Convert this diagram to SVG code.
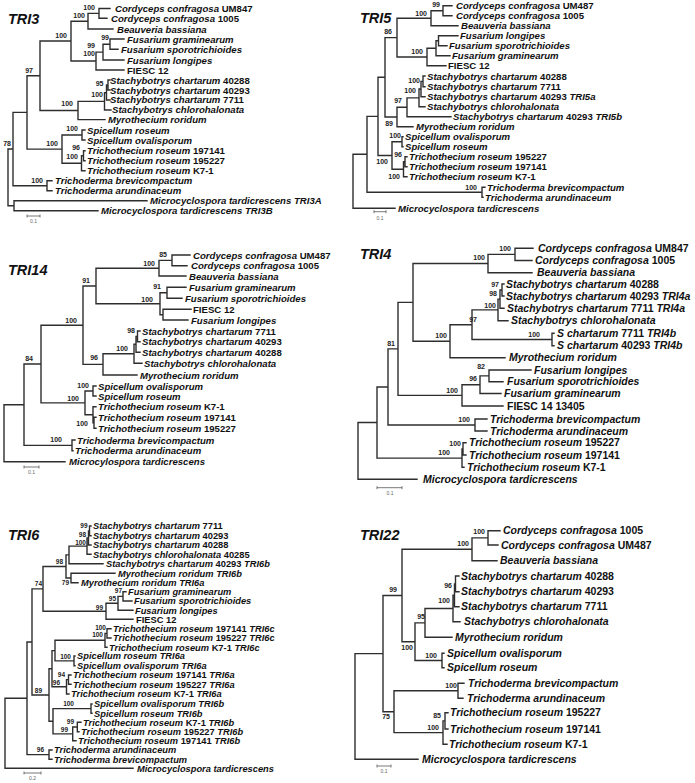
<svg xmlns="http://www.w3.org/2000/svg" width="695" height="783" viewBox="0 0 695 783">
<style>
.b{fill:none;stroke:#2e2e2e;stroke-width:1.4;stroke-linecap:square}
.l{font-family:"Liberation Sans",Arial,sans-serif;font-weight:bold;font-style:italic;font-size:9.6px;fill:#111}
.l2{font-size:10.5px}
.l3{font-size:9.3px}
.n{font-style:normal}
.s{font-family:"Liberation Sans",Arial,sans-serif;font-weight:bold;font-size:7px;fill:#222;text-anchor:end}
.t{font-family:"Liberation Sans",Arial,sans-serif;font-weight:bold;font-style:italic;font-size:14.5px;fill:#111}
.sb{fill:none;stroke:#555;stroke-width:0.8}
.sl{font-family:"Liberation Sans",Arial,sans-serif;font-size:5px;fill:#666;text-anchor:middle}
</style>
<rect width="695" height="783" fill="#fff"/>

<!-- TRI3 -->
<g id="tri3">
<text class="t" x="8" y="24">TRI3</text>
<g id="tri3-edges" class="b"><path d="M99 8.5V18.3M88 13.4V29M110 39V49.3M103 44.2V60M96 52.1V70M71 21.2V61M108 80V90M106.5 85V100M104.5 92.75V110M78 101.4V119.6M40 41V110.5M82 130V140M83.5 150.7V160.7M81.5 155.7V170.7M62 135V163.2M27 75.7V149.1M47 180.7V190.7M13 112.4V185.7M14 200.7V210.7M8 149V205.7M99 8.5H110M99 18.3H107M88 13.4H99M88 29H113M110 39H124M110 49.3H118M103 44.2H110M103 60H124M96 52.1H103M96 70H124M71 61H96M71 21.2H88M40 41H71M78 119.6H105M40 110.5H78M27 75.7H40M108 80H110M108 90H110M106.5 85H108M106.5 100H110M104.5 92.75H106.5M104.5 110H111M78 101.4H104.5M82 130H85M82 140H85M62 135H82M83.5 150.7H85M83.5 160.7H85M81.5 155.7H83.5M81.5 170.7H85M62 163.2H81.5M27 149.1H62M13 112.4H27M47 180.7H52M47 190.7H52M13 185.7H47M8 149H13M14 200.7H147M14 210.7H98M8 205.7H14"/></g>
<g id="tri3-leaves" class="l">
<text x="115" y="12">Cordyceps confragosa<tspan class="n"> UM847</tspan></text>
<text x="111" y="21.8">Cordyceps confragosa<tspan class="n"> 1005</tspan></text>
<text x="117" y="32.5">Beauveria bassiana</text>
<text x="127" y="42.5">Fusarium graminearum</text>
<text x="121" y="52.8">Fusarium sporotrichioides</text>
<text x="127" y="63.5">Fusarium longipes</text>
<text x="127" y="73.5" class="n">FIESC 12</text>
<text x="110" y="83.5">Stachybotrys chartarum<tspan class="n"> 40288</tspan></text>
<text x="110" y="93.5">Stachybotrys chartarum<tspan class="n"> 40293</tspan></text>
<text x="110" y="103.4">Stachybotrys chartarum<tspan class="n"> 7711</tspan></text>
<text x="112" y="113.2">Stachybotrys chlorohalonata</text>
<text x="108" y="123.3">Myrothecium roridum</text>
<text x="87" y="133.5">Spicellum roseum</text>
<text x="87" y="143.5">Spicellum ovalisporum</text>
<text x="87" y="154.2">Trichothecium roseum<tspan class="n"> 197141</tspan></text>
<text x="87" y="164.2">Trichothecium roseum<tspan class="n"> 195227</tspan></text>
<text x="87" y="174.2">Trichothecium roseum<tspan class="n"> K7-1</tspan></text>
<text x="55" y="184.2">Trichoderma brevicompactum</text>
<text x="55" y="194.2">Trichoderma arundinaceum</text>
<text x="150" y="204.2">Microcyclospora tardicrescens TRI3A</text>
<text x="101" y="214.2">Microcyclospora tardicrescens TRI3B</text>
</g>
<g id="tri3-support" class="s">
<text x="95" y="9.5">100</text><text x="85" y="17.5">100</text><text x="109" y="40">99</text><text x="95" y="47.5">99</text><text x="95" y="55.5">100</text><text x="67" y="37.5">100</text><text x="33" y="72.5">97</text><text x="103.5" y="85.5">95</text><text x="103" y="97">100</text><text x="73" y="106">100</text><text x="78" y="131">100</text><text x="80" y="149.5">96</text><text x="78" y="159">100</text><text x="58" y="145.5">100</text><text x="11" y="145.5">78</text><text x="43" y="182.5">100</text>
</g>
<g id="tri3-scale"><path class="sb" d="M27 216H40M27 214.5V217.5M40 214.5V217.5"/><text class="sl" x="33.5" y="223">0.1</text></g>
</g>

<!-- TRI5 -->
<g id="tri5">
<text class="t" x="360" y="23">TRI5</text>
<g id="tri5-edges" class="b"><path d="M443 5.7V15.7M431 10.7V25.7M438.5 35.7V45.7M436 40.7V55.7M427 48.2V65.7M397 18.2V57M423 76V86.7M421 81.35V96.7M419 89V106.7M407 97.9V116.7M397 107.3V126.7M385 37.6V117M402 136.7V146.7M405 156.7V166.7M403.5 161.7V176.7M392 141.7V169.2M378 77.3V155.5M482 187.3V197.3M367 116.4V192.3M353 154.3V208.3M443 5.7H452M443 15.7H452M431 10.7H443M431 25.7H458M397 18.2H431M438.5 35.7H458M438.5 45.7H447M436 40.7H438.5M436 55.7H450M427 48.2H436M427 65.7H446M397 57H427M385 37.6H397M423 76H425M423 86.7H425M421 81.35H423M421 96.7H425M419 89H421M419 106.7H425M407 97.9H419M407 116.7H451M397 107.3H407M397 126.7H413M385 117H397M378 77.3H385M402 136.7H403M402 146.7H403M392 141.7H402M405 156.7H407M405 166.7H407M403.5 161.7H405M403.5 176.7H407M392 169.2H403.5M378 155.5H392M367 116.4H378M482 187.3H485M482 197.3H483M367 192.3H482M353 154.3H367M353 208.3H395"/></g>
<g id="tri5-leaves" class="l">
<text x="456" y="9.2">Cordyceps confragosa<tspan class="n"> UM487</tspan></text>
<text x="456" y="19.2">Cordyceps confragosa<tspan class="n"> 1005</tspan></text>
<text x="461" y="29.2">Beauveria bassiana</text>
<text x="460" y="39.2">Fusarium longipes</text>
<text x="449" y="49.2">Fusarium sporotrichioides</text>
<text x="452" y="59.2">Fusarium graminearum</text>
<text x="448" y="69.2" class="n">FIESC 12</text>
<text x="427" y="79.5">Stachybotrys chartarum<tspan class="n"> 40288</tspan></text>
<text x="427" y="90.2">Stachybotrys chartarum<tspan class="n"> 7711</tspan></text>
<text x="427" y="100.2">Stachybotrys chartarum<tspan class="n"> 40293 </tspan>TRI5a</text>
<text x="427" y="110.2">Stachybotrys chlorohalonata</text>
<text x="453" y="120.2">Stachybotrys chartarum<tspan class="n"> 40293 </tspan>TRI5b</text>
<text x="416" y="130.2">Myrothecium roridum</text>
<text x="405" y="140.2">Spicellum ovalisporum</text>
<text x="405" y="150.2">Spicellum roseum</text>
<text x="409" y="160.2">Trichothecium roseum<tspan class="n"> 195227</tspan></text>
<text x="409" y="170.2">Trichothecium roseum<tspan class="n"> 197141</tspan></text>
<text x="409" y="180.2">Trichothecium roseum<tspan class="n"> K7-1</tspan></text>
<text x="487" y="190.8">Trichoderma brevicompactum</text>
<text x="485" y="200.8">Trichoderma arundinaceum</text>
<text x="398" y="211.8">Microcyclospora tardicrescens</text>
</g>
<g id="tri5-support" class="s">
<text x="440" y="7">99</text><text x="427" y="15.5">100</text><text x="392" y="34">86</text><text x="423" y="54">100</text><text x="420" y="83">100</text><text x="416" y="93">100</text><text x="402" y="102.5">97</text><text x="393" y="126">89</text><text x="401" y="137.5">100</text><text x="402" y="156.5">96</text><text x="388" y="164">100</text><text x="400" y="179">100</text><text x="477" y="190">100</text>
</g>
<g id="tri5-scale"><path class="sb" d="M374 211.7H386M374 210.2V213.2M386 210.2V213.2"/><text class="sl" x="380" y="220">0.1</text></g>
</g>

<!-- TRI14 -->
<g id="tri14">
<text class="t" x="8" y="275">TRI14</text>
<g id="tri14-edges" class="b"><path d="M172 255V265.7M159 260.4V276M167 287.3V298.3M163 309.3V320M160 292.8V314.7M96 268.2V303.7M137.5 331V341.7M136 336.35V352.3M134 344.3V363.3M103 353.8V375M83 286V364.4M93 386V396M94 417.3V428.3M93 406.7V422.8M85 391V414.75M41 325.2V402.9M72 440V450.7M24 364V445.35M4 404.7V461.7M172 255H190M172 265.7H187M159 260.4H172M159 276H186M96 268.2H159M167 287.3H186M167 298.3H182M160 292.8H167M163 309.3H191M163 320H188M160 314.7H163M96 303.7H160M83 286H96M137.5 331H140M137.5 341.7H140M136 336.35H137.5M136 352.3H140M134 344.3H136M134 363.3H142M103 353.8H134M103 375H137M83 364.4H103M41 325.2H83M93 386H96M93 396H96M85 391H93M93 406.7H96M94 417.3H96M94 428.3H96M93 422.8H94M85 414.75H93M41 402.9H85M24 364H41M72 440H75M72 450.7H73M24 445.35H72M4 404.7H24M4 461.7H65"/></g>
<g id="tri14-leaves" class="l">
<text x="193" y="258.5">Cordyceps confragosa<tspan class="n"> UM487</tspan></text>
<text x="191" y="269.2">Cordyceps confragosa<tspan class="n"> 1005</tspan></text>
<text x="189" y="279.5">Beauveria bassiana</text>
<text x="189" y="290.8">Fusarium graminearum</text>
<text x="185" y="301.8">Fusarium sporotrichioides</text>
<text x="193" y="312.8" class="n">FIESC 12</text>
<text x="191" y="323.5">Fusarium longipes</text>
<text x="142" y="334.5">Stachybotrys chartarum<tspan class="n"> 7711</tspan></text>
<text x="142" y="345.2">Stachybotrys chartarum<tspan class="n"> 40293</tspan></text>
<text x="142" y="355.8">Stachybotrys chartarum<tspan class="n"> 40288</tspan></text>
<text x="144" y="366.8">Stachybotrys chlorohalonata</text>
<text x="140" y="378.5">Myrothecium roridum</text>
<text x="98" y="389.5">Spicellum ovalisporum</text>
<text x="98" y="399.5">Spicellum roseum</text>
<text x="98" y="410.2">Trichothecium roseum<tspan class="n"> K7-1</tspan></text>
<text x="98" y="420.8">Trichothecium roseum<tspan class="n"> 197141</tspan></text>
<text x="98" y="431.8">Trichothecium roseum<tspan class="n"> 195227</tspan></text>
<text x="77" y="443.5">Trichoderma brevicompactum</text>
<text x="75" y="454.2">Trichoderma arundinaceum</text>
<text x="69" y="465.2">Microcylospora tardicrescens</text>
</g>
<g id="tri14-support" class="s">
<text x="167" y="256.5">85</text><text x="155" y="265.5">100</text><text x="161" y="289">91</text><text x="153" y="301.5">100</text><text x="90" y="283">91</text><text x="77" y="322.5">100</text><text x="33" y="361">84</text><text x="135" y="333">98</text><text x="128" y="350.5">100</text><text x="98" y="360">96</text><text x="89" y="387.5">100</text><text x="79" y="400.5">100</text><text x="88" y="426">100</text><text x="62" y="442">100</text>
</g>
<g id="tri14-scale"><path class="sb" d="M24 467H39M24 465.5V468.5M39 465.5V468.5"/><text class="sl" x="31.5" y="474">0.1</text></g>
</g>

<!-- TRI4 -->
<g id="tri4">
<text class="t" x="360" y="259">TRI4</text>
<g id="tri4-edges" class="b"><path d="M515 248.3V260.5M488 254.4V272.7M502 284V296M500 290V308.3M498 299.15V320.7M552 333.3V345.7M472 309.9V339.5M450 324.7V357.7M413 263.55V341.2M489 370V381.7M480 375.85V393.5M462 384.7V406M398 302.4V395.35M475 419V431M388 348.9V425M463 442.7V455M462 448.85V467.3M377 387V458.1M358 422.5V479.3M515 248.3H533M515 260.5H532M488 254.4H515M488 272.7H532M413 263.55H488M502 284H504M502 296H504M500 290H502M500 308.3H504M498 299.15H500M498 320.7H508M472 309.9H498M552 333.3H554M552 345.7H554M472 339.5H552M450 324.7H472M450 357.7H505M413 341.2H450M398 302.4H413M489 370H531M489 381.7H503M480 375.85H489M480 393.5H501M462 384.7H480M462 406H503M398 395.35H462M388 348.9H398M475 419H487M475 431H487M388 425H475M377 387H388M463 442.7H466M463 455H466M462 448.85H463M462 467.3H464M377 458.1H462M358 422.5H377M358 479.3H417"/></g>
<g id="tri4-leaves" class="l l2">
<text x="538" y="252">Cordyceps confragosa<tspan class="n"> UM847</tspan></text>
<text x="535" y="264.2">Cordyceps confragosa<tspan class="n"> 1005</tspan></text>
<text x="537" y="276.4">Beauveria bassiana</text>
<text x="506" y="287.7">Stachybotrys chartarum<tspan class="n"> 40288</tspan></text>
<text x="506" y="299.7">Stachybotrys chartarum<tspan class="n"> 40293 </tspan>TRI4a</text>
<text x="507" y="312">Stachybotrys chartarum<tspan class="n"> 7711 </tspan>TRI4a</text>
<text x="511" y="324.4">Stachybotrys chlorohalonata</text>
<text x="557" y="337">S chartarum<tspan class="n"> 7711 </tspan>TRI4b</text>
<text x="557" y="349.4">S chartarum<tspan class="n"> 40293 </tspan>TRI4b</text>
<text x="509" y="361.4">Myrothecium roridum</text>
<text x="534" y="373.7">Fusarium longipes</text>
<text x="507" y="385.4">Fusarium sporotrichioides</text>
<text x="504" y="397.2">Fusarium graminearum</text>
<text x="507" y="409.7" class="n">FIESC 14 13405</text>
<text x="490" y="422.7">Trichoderma brevicompactum</text>
<text x="490" y="434.7">Trichoderma arundinaceum</text>
<text x="469" y="446.4">Trichothecium roseum<tspan class="n"> 195227</tspan></text>
<text x="469" y="458.7">Trichothecium roseum<tspan class="n"> 197141</tspan></text>
<text x="467" y="471">Trichothecium roseum<tspan class="n"> K7-1</tspan></text>
<text x="423" y="483">Microcyclospora tardicrescens</text>
</g>
<g id="tri4-support" class="s">
<text x="511" y="250.5">100</text><text x="485" y="260">100</text><text x="499" y="286.5">97</text><text x="497" y="296">98</text><text x="496" y="307.5">100</text><text x="477" y="322">97</text><text x="540" y="336.5">100</text><text x="447" y="338">100</text><text x="395" y="346">81</text><text x="485" y="369">82</text><text x="477" y="381">96</text><text x="458" y="392.5">100</text><text x="470" y="422">100</text><text x="461" y="446">100</text><text x="450" y="455">100</text>
</g>
<g id="tri4-scale"><path class="sb" d="M377 487.7H402M377 486.2V489.2M402 486.2V489.2"/><text class="sl" x="390" y="495">0.1</text></g>
</g>

<!-- TRI6 -->
<g id="tri6">
<text class="t" x="8" y="540">TRI6</text>
<g id="tri6-edges" class="b"><path d="M89.5 526V535.7M88.5 530.85V545M87 537.9V554.3M69 546.1V563.7M71 573.3V582.7M66 554.9V578M123 591.7V601M118 596.35V610.3M106 603.3V619.3M43 566.45V611.3M107 628.7V638M105 633.35V647.3M74 656V665.7M55 640.3V660.85M68.5 675V684.3M66.5 679.65V694M52 650.6V686.8M91 704V713.3M77.3 722.3V731.7M72.7 727V740.7M53 708.65V733.85M49 668.7V721.25M32 588.9V695M49 750V759.3M27 641.95V754.65M5 698.3V768.3M89.5 526H91M89.5 535.7H91M88.5 530.85H89.5M88.5 545H91M87 537.9H88.5M87 554.3H91M69 546.1H87M69 563.7H103M66 554.9H69M71 573.3H115M71 582.7H78M66 578H71M43 566.45H66M123 591.7H126M123 601H132M118 596.35H123M118 610.3H133M106 603.3H118M106 619.3H133M43 611.3H106M32 588.9H43M107 628.7H111M107 638H111M105 633.35H107M105 647.3H107M55 640.3H105M74 656H75M74 665.7H75M55 660.85H74M52 650.6H55M68.5 675H71M68.5 684.3H71M66.5 679.65H68.5M66.5 694H69M52 686.8H66.5M49 668.7H52M91 704H92M91 713.3H92M53 708.65H91M77.3 722.3H81M77.3 731.7H79M72.7 727H77.3M72.7 740.7H76M53 733.85H72.7M49 721.25H53M32 695H49M27 641.95H32M49 750H52M49 759.3H52M27 754.65H49M5 698.3H27M5 768.3H133"/></g>
<g id="tri6-leaves" class="l l3">
<text x="93" y="529.4">Stachybotrys chartarum<tspan class="n"> 7711</tspan></text>
<text x="93" y="539.1">Stachybotrys chartarum<tspan class="n"> 40293</tspan></text>
<text x="93" y="548.4">Stachybotrys chartarum<tspan class="n"> 40288</tspan></text>
<text x="93" y="557.7">Stachybotrys chlorohalonata<tspan class="n"> 40285</tspan></text>
<text x="106" y="567.1">Stachybotrys chartarum<tspan class="n"> 40293 </tspan>TRI6b</text>
<text x="118" y="576.7">Myrothecium roridum TRI6b</text>
<text x="81" y="586.1">Myrothecium roridum TRI6a</text>
<text x="128" y="595.1">Fusarium graminearum</text>
<text x="134" y="604.4">Fusarium sporotrichioides</text>
<text x="135" y="613.7">Fusarium longipes</text>
<text x="136" y="622.7" class="n">FIESC 12</text>
<text x="113" y="632.1">Trichothecium roseum<tspan class="n"> 197141 </tspan>TRI6c</text>
<text x="113" y="641.4">Trichothecium roseum<tspan class="n"> 195227 </tspan>TRI6c</text>
<text x="109" y="650.7">Trichothecium roseum<tspan class="n"> K7-1 </tspan>TRI6c</text>
<text x="77" y="659.4">Spicellum roseum TRI6a</text>
<text x="77" y="669.1">Spicellum ovalisporum TRI6a</text>
<text x="73" y="678.4">Trichothecium roseum<tspan class="n"> 197141 </tspan>TRI6a</text>
<text x="73" y="687.7">Trichothecium roseum<tspan class="n"> 195227 </tspan>TRI6a</text>
<text x="71" y="697.4">Trichothecium roseum<tspan class="n"> K7-1 </tspan>TRI6a</text>
<text x="94" y="707.4">Spicellum ovalisporum TRI6b</text>
<text x="94" y="716.7">Spicellum roseum TRI6b</text>
<text x="83" y="725.7">Trichothecium roseum<tspan class="n"> K7-1 </tspan>TRI6b</text>
<text x="81" y="735.1">Trichothecium roseum<tspan class="n"> 195227 </tspan>TRI6b</text>
<text x="78" y="744.1">Trichothecium roseum<tspan class="n"> 197141 </tspan>TRI6b</text>
<text x="54" y="753.4">Trichoderma arundinaceum</text>
<text x="54" y="762.7">Trichoderma brevicompactum</text>
<text x="137" y="771.7">Microcyclospora tardicrescens</text>
</g>
<g id="tri6-support" class="s" style="font-size:6.5px">
<text x="87.5" y="528">99</text><text x="86" y="536.5">98</text><text x="86" y="545">100</text><text x="63" y="564">98</text><text x="69" y="585">79</text><text x="42" y="586">74</text><text x="122" y="593">97</text><text x="116" y="600.5">95</text><text x="103" y="609.5">99</text><text x="106" y="629.5">100</text><text x="103" y="637">100</text><text x="71" y="659">100</text><text x="65" y="676.5">94</text><text x="60" y="685">96</text><text x="42" y="692.5">89</text><text x="74" y="705.5">100</text><text x="74" y="723.5">99</text><text x="68" y="731.5">99</text><text x="44" y="751.5">96</text>
</g>
<g id="tri6-scale"><path class="sb" d="M24 773H41M24 771.5V774.5M41 771.5V774.5"/><text class="sl" x="32.5" y="780">0.2</text></g>
</g>

<!-- TRI22 -->
<g id="tri22">
<text class="t" x="360" y="540">TRI22</text>
<g id="tri22-edges" class="b"><path d="M488 530.7V545M472 537.85V560.7M455.5 576V591.7M454.5 583.85V606.7M453 595.3V621.7M425 608.5V637.3M442 653.3V667.7M415 622.9V660.5M402 549.3V641.7M458 683.3V698.3M445 712.7V729M443 720.85V744.3M394 690.8V732.6M383 595.5V711.7M355 653.6V759.3M488 530.7H500M488 545H498M472 537.85H488M472 560.7H497M402 549.3H472M455.5 576H459M455.5 591.7H459M454.5 583.85H455.5M454.5 606.7H459M453 595.3H454.5M453 621.7H460M425 608.5H453M425 637.3H452M415 622.9H425M442 653.3H444M442 667.7H444M415 660.5H442M402 641.7H415M383 595.5H402M458 683.3H464M458 698.3H463M394 690.8H458M445 712.7H448M445 729H448M443 720.85H445M443 744.3H447M394 732.6H443M383 711.7H394M355 653.6H383M355 759.3H418"/></g>
<g id="tri22-leaves" class="l l2">
<text x="503" y="534.4">Cordyceps confragosa<tspan class="n"> 1005</tspan></text>
<text x="501" y="548.7">Cordyceps confragosa<tspan class="n"> UM487</tspan></text>
<text x="500" y="564.4">Beauveria bassiana</text>
<text x="461" y="579.7">Stachybotrys chartarum<tspan class="n"> 40288</tspan></text>
<text x="461" y="595.4">Stachybotrys chartarum<tspan class="n"> 40293</tspan></text>
<text x="461" y="610.4">Stachybotrys chartarum<tspan class="n"> 7711</tspan></text>
<text x="464" y="625.4">Stachybotrys chlorohalonata</text>
<text x="455" y="641">Myrothecium roridum</text>
<text x="447" y="657">Spicellum ovalisporum</text>
<text x="447" y="671.4">Spicellum roseum</text>
<text x="468" y="687">Trichoderma brevicompactum</text>
<text x="467" y="702">Trichoderma arundinaceum</text>
<text x="450" y="716.4">Trichothecium roseum<tspan class="n"> 195227</tspan></text>
<text x="450" y="732.7">Trichothecium roseum<tspan class="n"> 197141</tspan></text>
<text x="449" y="748">Trichothecium roseum<tspan class="n"> K7-1</tspan></text>
<text x="422" y="763">Microcyclospora tardicrescens</text>
</g>
<g id="tri22-support" class="s">
<text x="485" y="534">100</text><text x="469" y="546">100</text><text x="452" y="587.5">96</text><text x="450" y="602.5">100</text><text x="425" y="618.5">95</text><text x="397" y="592">99</text><text x="413" y="650">100</text><text x="437" y="657.5">100</text><text x="457" y="687.5">100</text><text x="441" y="718">85</text><text x="439" y="730">100</text><text x="390" y="719">75</text>
</g>
<g id="tri22-scale"><path class="sb" d="M377 766H391M377 764.5V767.5M391 764.5V767.5"/><text class="sl" x="384" y="773">0.1</text></g>
</g>
</svg>
